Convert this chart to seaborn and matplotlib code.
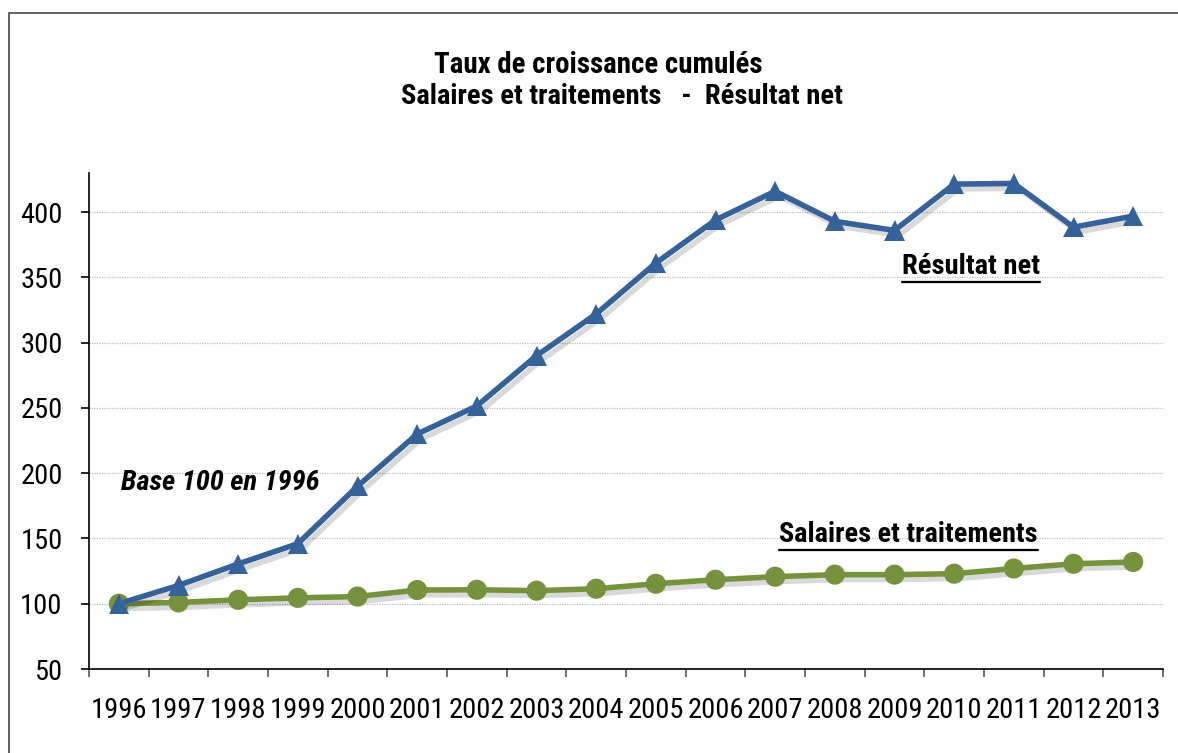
import matplotlib
matplotlib.use("Agg")
import matplotlib.pyplot as plt
import matplotlib.patheffects as pe
import seaborn as sns
import pandas as pd
import numpy as np

years = [1996, 1997, 1998, 1999, 2000, 2001, 2002, 2003, 2004,
         2005, 2006, 2007, 2008, 2009, 2010, 2011, 2012, 2013]
resultat_net = [100, 114, 130.5, 146, 190, 230, 251.5, 290, 322,
                361, 394, 416, 393, 386, 421.5, 422, 388.5, 397]
salaires = [100, 101, 103, 104.5, 105.5, 110.5, 110.7, 110, 111.5,
            115.3, 118.4, 120.7, 122.3, 122.3, 123, 127, 130.6, 132]
yticks = [50, 100, 150, 200, 250, 300, 350, 400]

title_l1 = "Taux de croissance cumulés"
title_l2 = "Salaires et traitements   -  Résultat net"
note_base = "Base 100 en 1996"
lab_res = "Résultat net"
lab_sal = "Salaires et traitements"

sns.set_theme(style="white")
FAM = ['Roboto Condensed', 'Liberation Sans', 'DejaVu Sans']
plt.rcParams['font.family'] = FAM
plt.rcParams['text.color'] = 'black'

W, H = 1178, 753
fig = plt.figure(figsize=(W / 100, H / 100), dpi=100)
ax = fig.add_axes([89 / W, 1 - 669 / H, (1163 - 89) / W, (669 - 173) / H])

df = pd.DataFrame({
    "year": years * 2,
    "value": salaires + resultat_net,
    "serie": [lab_sal] * len(years) + [lab_res] * len(years),
})
blue = "#36629A"
green = "#76923C"
sns.lineplot(data=df, x="year", y="value", hue="serie", style="serie",
             palette={lab_res: blue, lab_sal: green},
             markers={lab_res: "^", lab_sal: "o"}, dashes=False,
             markersize=14.5, linewidth=4, markeredgewidth=0,
             legend=False, ax=ax)

shadow = [pe.SimpleLineShadow(offset=(3, -3.5), shadow_color="black", alpha=0.15, rho=0.9),
          pe.Normal()]
for i, ln in enumerate(ax.lines):
    ln.set_path_effects(shadow)
    ln.set_clip_on(False)
    ln.set_zorder(3 + i)

ax.set_xlim(years[0] - 0.5, years[-1] + 0.5)
ax.set_ylim(50, 430)
ax.set_yticks(yticks)
ax.set_yticklabels([str(v) for v in yticks])
ax.set_xticks(years)
ax.set_xticklabels([str(y) for y in years])
ax.set_xticks(np.arange(years[0] - 0.5, years[-1] + 1.0, 1.0), minor=True)
ax.tick_params(axis="x", which="major", length=0, pad=20, labelsize=20.5, colors="black")
ax.tick_params(axis="x", which="minor", length=6, width=1.2, direction="out",
               color="#555555", bottom=True)
ax.tick_params(axis="y", which="major", length=6, width=1.2, direction="out",
               pad=13, labelsize=20.5, colors="black", left=True)
ax.set_xlabel("")
ax.set_ylabel("")
for s in ["top", "right"]:
    ax.spines[s].set_visible(False)
for s in ["left", "bottom"]:
    ax.spines[s].set_color("black")
    ax.spines[s].set_linewidth(1.2)
for v in yticks[1:]:
    ax.axhline(v, color="#bdbdbd", linestyle=(0, (1, 1)), linewidth=0.9, zorder=1)

# outer frame
fig.add_artist(plt.Rectangle((9 / W, -0.05), 1.1, 1 - 13 / H + 0.05,
                             transform=fig.transFigure, fill=False,
                             edgecolor="#555555", linewidth=1.3))

fig.text(598 / W, 1 - 65 / H, title_l1, ha="center", va="center",
         fontsize=20.8, fontweight="bold")
fig.text(622 / W, 1 - 96 / H, title_l2, ha="center", va="center",
         fontsize=20.5, fontweight="bold")
fig.text(121 / W, 1 - 483 / H, note_base, ha="left", va="center",
         fontsize=20.5, fontweight="bold", style="italic")

t1 = fig.text(902 / W, 1 - 267 / H, lab_res, ha="left", va="center",
              fontsize=20.5, fontweight="bold")
t2 = fig.text(779 / W, 1 - 535 / H, lab_sal, ha="left", va="center",
              fontsize=20.3, fontweight="bold")
fig.canvas.draw()
r = fig.canvas.get_renderer()
for t in (t1, t2):
    bb = t.get_window_extent(renderer=r)
    yline = bb.y0 - 1
    fig.add_artist(plt.Line2D([bb.x0 / W, bb.x1 / W], [yline / H, yline / H],
                              transform=fig.transFigure, color="black", linewidth=1.6))

fig.savefig("out.png", dpi=100)
